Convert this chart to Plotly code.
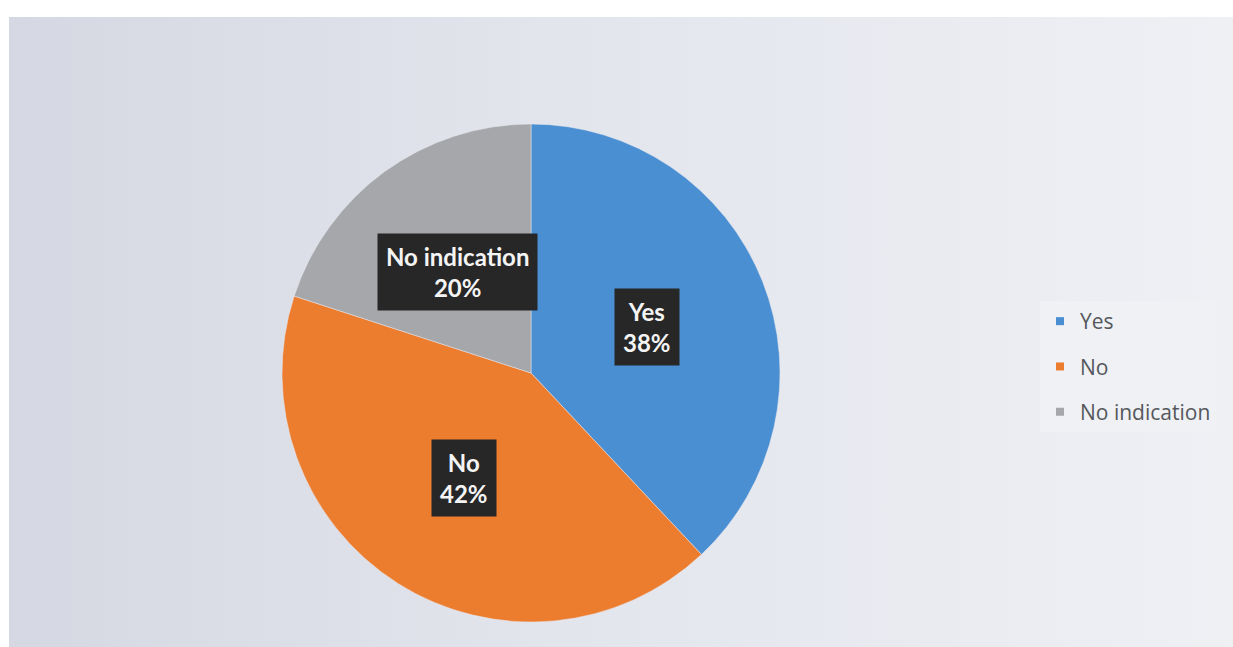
import math
import plotly.graph_objects as go

# Survey answers and their shares (%)
categories = ["Yes", "No", "No indication"]
shares = [38, 42, 20]
slice_colors = ["#4b8fd3", "#ec7c2e", "#a6a7ab"]

W, H = 1233, 647
# pie geometry in pixels
cx, cy, r = 531, 373, 249

fig = go.Figure()

# light photographed-looking backdrop with a soft horizontal gradient
bx0, bx1, by0, by1 = 9, W, 17, H
fig.add_trace(go.Scatter(
    x=[bx0, bx1, bx1, bx0, bx0], y=[by0, by0, by1, by1, by0],
    mode="lines", line=dict(width=0), fill="toself",
    fillgradient=dict(type="horizontal",
                      colorscale=[[0, "#d5d8e2"], [0.45, "#e3e5ed"], [1, "#eef0f4"]]),
    hoverinfo="skip", showlegend=False,
))

fig.add_trace(go.Pie(
    labels=categories, values=shares, sort=False, direction="clockwise",
    rotation=0, textinfo="none", hoverinfo="label+percent", showlegend=False,
    marker=dict(colors=slice_colors, line=dict(color="#e8e9ee", width=0.5)),
    domain=dict(x=[(cx - r) / W, (cx + r) / W], y=[1 - (cy + r) / H, 1 - (cy - r) / H]),
))

# legend entries, one group per category so the rows can be spaced apart
for i, (cat, col) in enumerate(zip(categories, slice_colors)):
    fig.add_trace(go.Scatter(
        x=[None], y=[None], mode="markers", name=cat, legendgroup=f"g{i}",
        marker=dict(symbol="square", size=8, color=col), showlegend=True,
    ))

# data labels: dark boxes halfway out along each slice's mid-angle
total = sum(shares)
start = 0.0
for cat, val in zip(categories, shares):
    mid = (start + val / 2) / total * 2 * math.pi
    start += val
    lx = cx + 0.5 * r * math.sin(mid)
    ly = cy - 0.5 * r * math.cos(mid)
    fig.add_annotation(
        x=lx / W, y=1 - ly / H, xref="paper", yref="paper",
        xanchor="center", yanchor="middle",
        text=f"<b>{cat}<br>{round(val / total * 100)}%</b>", showarrow=False,
        font=dict(family="Lato, sans-serif", size=24, color="#f4f4f4"),
        bgcolor="#272727", borderpad=8, align="center",
    )

fig.update_layout(
    width=W, height=H, margin=dict(l=0, r=0, t=0, b=0),
    paper_bgcolor="#ffffff", plot_bgcolor="rgba(0,0,0,0)",
    xaxis=dict(range=[0, W], visible=False, fixedrange=True),
    yaxis=dict(range=[H, 0], visible=False, fixedrange=True),
    showlegend=True,
    legend=dict(
        x=1040 / W, y=1 - 301 / H, xanchor="left", yanchor="top",
        bgcolor="#eff1f5", borderwidth=0, tracegroupgap=15,
        font=dict(family="Open Sans, sans-serif", size=21, color="#55575b"),
        itemwidth=30, itemsizing="trace",
    ),
)

fig.write_html("out.html")
